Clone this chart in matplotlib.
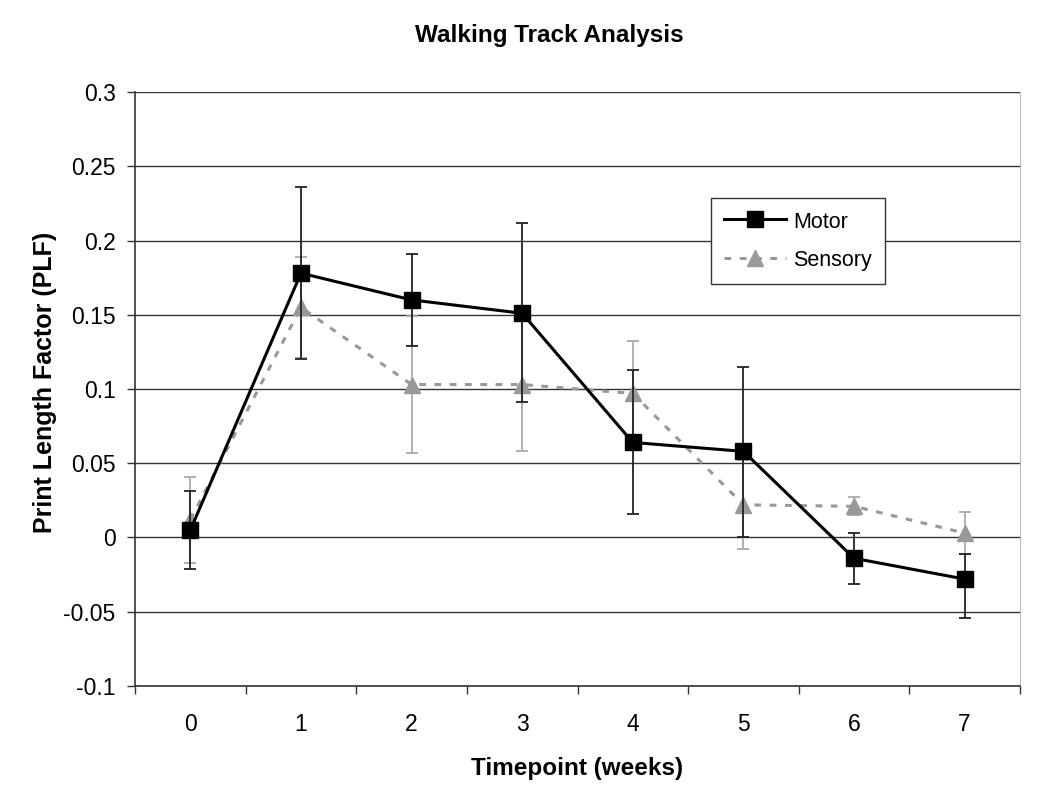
import numpy as np
import matplotlib
matplotlib.use("Agg")
import matplotlib.pyplot as plt

plt.rcParams['font.family'] = ['Liberation Sans', 'DejaVu Sans']

# ===== data =====
weeks = [0, 1, 2, 3, 4, 5, 6, 7]
motor = [0.005, 0.178, 0.160, 0.151, 0.064, 0.058, -0.014, -0.028]
motor_lo = [0.026, 0.058, 0.031, 0.060, 0.048, 0.058, 0.017, 0.026]
motor_hi = [0.026, 0.058, 0.031, 0.061, 0.049, 0.057, 0.017, 0.017]
sensory = [0.012, 0.155, 0.103, 0.103, 0.097, 0.022, 0.021, 0.003]
sensory_err = [0.029, 0.034, 0.046, 0.045, 0.035, 0.030, 0.006, 0.014]

yticks = [-0.1, -0.05, 0, 0.05, 0.1, 0.15, 0.2, 0.25, 0.3]
ytick_labels = ['-0.1', '-0.05', '0', '0.05', '0.1', '0.15', '0.2', '0.25', '0.3']

fig = plt.figure(figsize=(10.5, 7.96), dpi=100)
ax = fig.add_axes([0.1286, 0.1382, 0.8428, 0.7462])

for y in yticks:
    ax.axhline(y, color='#333333', lw=1.0, zorder=0)

ax.errorbar(weeks, sensory, yerr=sensory_err, fmt='none', ecolor='#aaaaaa',
            elinewidth=1.3, capsize=4, capthick=1.3, zorder=1)
ax.plot(weeks, sensory, color='#999999', ls=(0, (2.2, 2.8)), lw=2.2,
        marker='^', markersize=12, markerfacecolor='#999999',
        markeredgecolor='#999999', label='Sensory', zorder=2)
ax.errorbar(weeks, motor, yerr=[motor_lo, motor_hi], fmt='none', ecolor='#222222',
            elinewidth=1.3, capsize=4, capthick=1.3, zorder=3)
ax.plot(weeks, motor, color='black', lw=2.2, marker='s', markersize=11.5,
        markerfacecolor='black', markeredgecolor='black', label='Motor', zorder=4)

ax.set_xlim(-0.5, 7.5)
ax.set_ylim(-0.1, 0.3)
ax.set_yticks(yticks)
ax.set_yticklabels(ytick_labels)
ax.set_xticks(weeks)
ax.set_xticks(np.arange(-0.5, 8.0, 1.0), minor=True)
ax.tick_params(axis='x', which='major', length=0, pad=19.5, labelsize=16.5)
ax.tick_params(axis='x', which='minor', length=6, width=1, direction='out', color='#333333')
ax.tick_params(axis='y', length=6, width=1, direction='out', pad=8, labelsize=16.5, color='#333333')

for s in ['left', 'bottom']:
    ax.spines[s].set_color('#333333')
    ax.spines[s].set_linewidth(1.2)
ax.spines['top'].set_visible(False)
ax.spines['right'].set_color('#bbbbbb')

ax.set_xlabel('Timepoint (weeks)', fontsize=17.5, fontweight='bold', labelpad=15)
ax.set_ylabel('Print Length Factor (PLF)', fontsize=18, fontweight='bold')
ax.yaxis.set_label_coords(-0.088, 0.512)
fig.text(0.523, 0.955, 'Walking Track Analysis', ha='center', va='center',
         fontsize=17.5, fontweight='bold')

handles, labels = ax.get_legend_handles_labels()
leg = ax.legend(handles[::-1], labels[::-1], loc='upper left', bbox_to_anchor=(0.651, 0.8215),
                fontsize=15.5, frameon=True, fancybox=False, edgecolor='#333333',
                framealpha=1, borderpad=0.6, borderaxespad=0, handlelength=2.9,
                handleheight=1.0, labelspacing=0.75, handletextpad=0.3)
leg.get_frame().set_linewidth(1.0)

fig.savefig('out.png', dpi=100, facecolor='white')
